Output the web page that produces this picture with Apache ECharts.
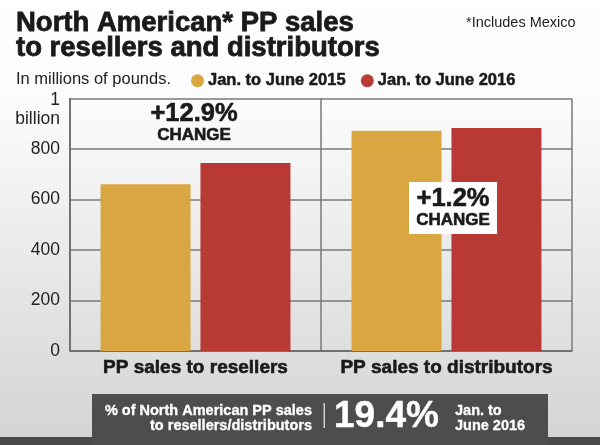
<!DOCTYPE html>
<html>
<head>
<meta charset="utf-8">
<script src="https://cdn.jsdelivr.net/npm/echarts@6/dist/echarts.min.js"></script>
<style>html,body{margin:0;padding:0;}#c{width:600px;height:445px;}</style>
</head>
<body>
<div id="c"></div>
<script>
var categories = ['PP sales to resellers', 'PP sales to distributors'];
var seriesNames = ['Jan. to June 2015', 'Jan. to June 2016'];
var sales2015 = [660, 872];
var sales2016 = [745, 883];
var yTicks = [0, 200, 400, 600, 800, 1000];
var changes = ['+12.9%', '+1.2%'];
var shareValue = '19.4%';

var FONT = 'Liberation Sans';
var INK = '#1a1a1a';
var chart = echarts.init(document.getElementById('c'), null, {renderer: 'canvas'});

var option = {
  backgroundColor: new echarts.graphic.LinearGradient(0, 0, 0, 1, [
    {offset: 0, color: '#ffffff'},
    {offset: 0.25, color: '#fbfbfb'},
    {offset: 1, color: '#d3d3d3'}
  ]),
  animation: false,
  textStyle: {fontFamily: FONT},
  title: [
    {
      text: 'North American* PP sales\nto resellers and distributors',
      left: 11, top: 6,
      textStyle: {fontFamily: FONT, fontWeight: 'bold', fontSize: 27.5, lineHeight: 25, color: INK,
                  textBorderColor: INK, textBorderWidth: 0.8}
    },
    {
      text: '*Includes Mexico',
      left: 461, top: 10,
      textStyle: {fontFamily: FONT, fontWeight: 'normal', fontSize: 14.5, color: '#222'}
    },
    {
      text: 'In millions of pounds.',
      left: 11, top: 66,
      textStyle: {fontFamily: FONT, fontWeight: 'normal', fontSize: 16.5, color: '#222'}
    }
  ],
  legend: {
    left: 186, top: 67,
    icon: 'circle',
    itemWidth: 13, itemHeight: 13,
    itemGap: 15,
    data: seriesNames,
    textStyle: {fontFamily: FONT, fontWeight: 'bold', fontSize: 16.5, color: INK, padding: [0, 0, 0, -1],
                textBorderColor: INK, textBorderWidth: 0.5}
  },
  grid: {left: 70, right: 28, top: 98.5, bottom: 94, containLabel: false},
  xAxis: {
    type: 'category',
    data: categories,
    axisTick: {show: false},
    axisLine: {show: true, lineStyle: {color: '#666', width: 1.5}},
    splitLine: {show: true, lineStyle: {color: '#7a7a7a', width: 1.5}},
    axisLabel: {interval: 0, hideOverlap: false, fontFamily: FONT, fontWeight: 'bold', fontSize: 19, color: INK, margin: 7,
                textBorderColor: INK, textBorderWidth: 0.6}
  },
  yAxis: {
    type: 'value',
    min: 0, max: 1000, interval: 200,
    axisLine: {show: true, lineStyle: {color: '#666', width: 1.5}},
    axisTick: {show: false},
    splitLine: {show: true, lineStyle: {color: '#7a7a7a', width: 1.5}},
    axisLabel: {
      fontFamily: FONT, fontSize: 17.5, color: '#222', margin: 10,
      formatter: function (v) {
        if (v === 1000) return '{s| }\n{t|1}\n{b|billion}';
        return String(v);
      },
      rich: {
        s: {fontSize: 17, lineHeight: 23, fontFamily: FONT},
        t: {fontSize: 17.5, lineHeight: 19, fontFamily: FONT, color: '#222', align: 'right'},
        b: {fontSize: 17.5, lineHeight: 19, fontFamily: FONT, color: '#222', align: 'right'}
      }
    }
  },
  series: [
    {name: seriesNames[0], type: 'bar', data: sales2015, barWidth: 90, barGap: '11%',
     itemStyle: {color: '#d9a641'}},
    {name: seriesNames[1], type: 'bar', data: sales2016, barWidth: 90, barGap: '11%',
     itemStyle: {color: '#b93a35'}}
  ]
};
chart.setOption(option);

// annotations positioned via the chart's own scales
var p1 = chart.convertToPixel({xAxisIndex: 0, yAxisIndex: 0}, [0, 937]);
var p2 = chart.convertToPixel({xAxisIndex: 0, yAxisIndex: 0}, [1, 566]);
var ax1 = p1[0] - 1.5, ax2 = p2[0] + 6.5;

function heavy(txt, x, y, size, fill, align, bw) {
  return {type: 'text', x: x, y: y, z: 10,
    style: {text: txt, fontFamily: FONT, fontWeight: 'bold', fontSize: size, fill: fill,
            stroke: fill, lineWidth: bw === undefined ? 0.6 : bw,
            align: align || 'center', verticalAlign: 'middle'}};
}

chart.setOption({
  graphic: [
    heavy(changes[0], ax1, p1[1], 25.5, INK),
    heavy('CHANGE', ax1, p1[1] + 21, 17, INK),
    {type: 'rect', shape: {x: ax2 - 44, y: p2[1] - 26, width: 88, height: 52}, z: 9,
     style: {fill: '#ffffff'}},
    heavy(changes[1], ax2, p2[1] - 9, 25.5, INK),
    heavy('CHANGE', ax2, p2[1] + 12, 17, INK),
    // bottom strip and box
    {type: 'rect', shape: {x: 0, y: 437, width: 600, height: 8}, z: 5, style: {fill: '#4a4a4a'}},
    {type: 'rect', shape: {x: 92, y: 394, width: 456, height: 51}, z: 5, style: {fill: '#4d4d4d'}},
    heavy('% of North American PP sales', 312, 411, 14.5, '#ffffff', 'right', 0.3),
    heavy('to resellers/distributors', 312, 425.5, 14.5, '#ffffff', 'right', 0.3),
    {type: 'rect', shape: {x: 323.5, y: 403, width: 1.5, height: 25}, z: 10, style: {fill: '#cfcfcf'}},
    heavy(shareValue, 334, 417, 37, '#ffffff', 'left', 0.4),
    heavy('Jan. to', 455, 411, 14.5, '#ffffff', 'left', 0.3),
    heavy('June 2016', 455, 425.5, 14.5, '#ffffff', 'left', 0.3)
  ]
});
</script>
</body>
</html>
